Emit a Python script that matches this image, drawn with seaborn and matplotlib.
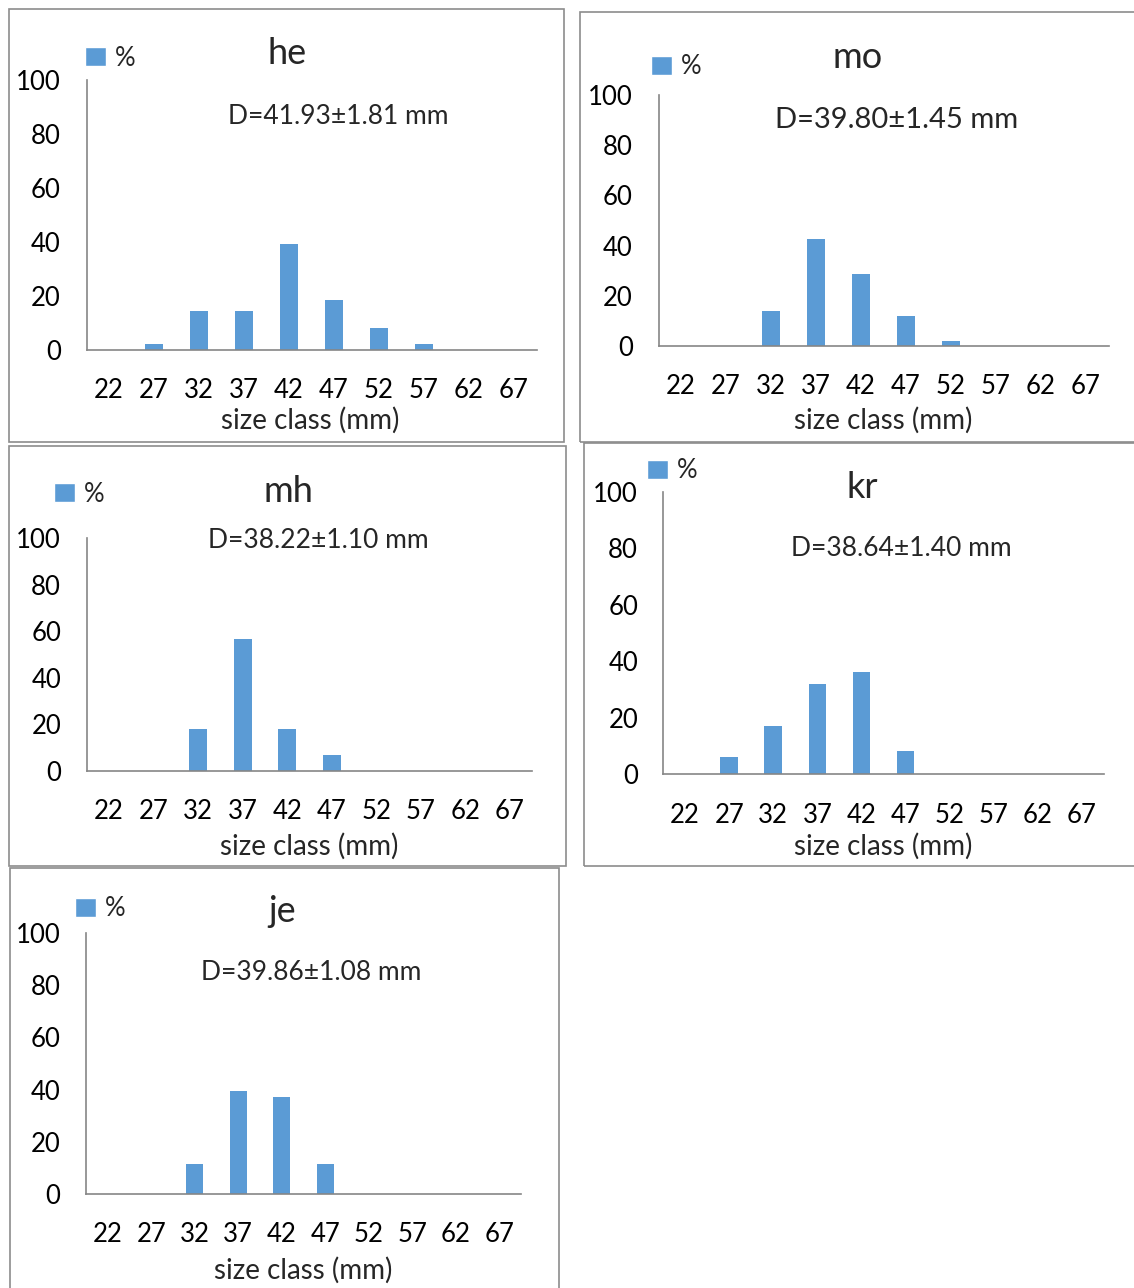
import matplotlib
matplotlib.use("Agg")
import matplotlib.pyplot as plt
import seaborn as sns
import pandas as pd
from matplotlib.patches import Rectangle, Patch

sns.set_style("white")
plt.rcParams["font.family"] = ["Lato", "DejaVu Sans"]

# size classes (mm) and % per class for each site
size_class = ["22", "27", "32", "37", "42", "47", "52", "57", "62", "67"]
he = [0, 2.1, 14.5, 14.5, 39.4, 18.7, 8.3, 2.1, 0, 0]
mo = [0, 0, 14.1, 42.7, 28.5, 11.9, 2.1, 0, 0, 0]
mh = [0, 0, 18.0, 56.7, 18.0, 6.8, 0, 0, 0, 0]
kr = [0, 6.2, 16.9, 31.8, 36.2, 8.3, 0, 0, 0, 0]
je = [0, 0, 11.4, 39.5, 37.2, 11.4, 0, 0, 0, 0]
sites = ["he", "mo", "mh", "kr", "je"]
means = ["D=41.93\u00b11.81 mm", "D=39.80\u00b11.45 mm", "D=38.22\u00b11.10 mm",
         "D=38.64\u00b11.40 mm", "D=39.86\u00b11.08 mm"]
yticks = [0, 20, 40, 60, 80, 100]

W, H = 1134, 1288
BLUE = "#5B9BD5"
GREY = "#868686"
FS = 18.5

# layout in pixels: box, axes (left, y100, right, y0), title, mean text, legend square centre, xlabel
layout = {
    "he": dict(box=(9, 9, 564, 442), ax=(86.5, 80, 536.5, 350), title=(287, 53), d=(338, 116),
               leg=(94, 58), xl=(310, 420), ticks=True, dfs=19),
    "mo": dict(box=(580, 12, 1140, 442), ax=(658.5, 95, 1108.5, 346), title=(858, 58), d=(897, 120),
               leg=(660, 67), xl=(883, 420), ticks=True, dfs=21),
    "mh": dict(box=(9, 446, 566, 866), ax=(86.7, 538, 532.3, 771), title=(288, 491), d=(318, 541),
               leg=(63, 494), xl=(309, 846), ticks=True, dfs=19),
    "kr": dict(box=(584, 443, 1140, 866), ax=(663, 492, 1104, 774), title=(862, 488), d=(901, 548),
               leg=(656, 471), xl=(883, 846), ticks=False, dfs=19),
    "je": dict(box=(10, 868, 559, 1295), ax=(86, 933, 521, 1194), title=(282, 912), d=(311, 972),
               leg=(84, 909), xl=(303, 1270), ticks=True, dfs=19),
}
values = {"he": he, "mo": mo, "mh": mh, "kr": kr, "je": je}


def fx(x):
    return x / W


def fy(y):
    return 1 - y / H


fig = plt.figure(figsize=(W / 100, H / 100), dpi=100)

for site, mean in zip(sites, means):
    L = layout[site]
    bx0, by0, bx1, by1 = L["box"]
    fig.patches.append(Rectangle((fx(bx0), fy(by1)), fx(bx1) - fx(bx0), fy(by0) - fy(by1),
                                 transform=fig.transFigure, fill=False, edgecolor="#8c8c8c", lw=1.2))

    l, t, r, b = L["ax"]
    ax = fig.add_axes([fx(l), fy(b), fx(r) - fx(l), fy(t) - fy(b)])
    df = pd.DataFrame({"size": size_class, "pct": values[site]})
    sns.barplot(data=df, x="size", y="pct", color=BLUE, saturation=1, width=0.4, linewidth=0, ax=ax)
    ax.set_xlim(-0.5, 9.5)
    ax.set_ylim(0, 100)
    ax.set_xlabel("")
    ax.set_ylabel("")
    for s in ["top", "right"]:
        ax.spines[s].set_visible(False)
    for s in ["left", "bottom"]:
        ax.spines[s].set_color(GREY)
        ax.spines[s].set_linewidth(1.2)
        ax.spines[s].set_zorder(3)

    ax.set_yticks(yticks)
    ax.set_xticks(range(10))
    ax.set_xticklabels(size_class)
    if L["ticks"]:
        ax.set_xticks([i - 0.5 for i in range(11)], minor=True)
        ax.tick_params(axis="x", which="major", length=0, pad=20, labelsize=FS)
        ax.tick_params(axis="x", which="minor", direction="out", length=5, width=1.2, color=GREY)
        ax.tick_params(axis="y", direction="out", length=4.5, width=1.2, color=GREY, pad=14, labelsize=FS)
    else:
        ax.tick_params(axis="x", length=0, pad=21, labelsize=FS)
        ax.tick_params(axis="y", length=0, pad=18, labelsize=FS)
    ax.tick_params(which="both", labelcolor="black")

    fig.text(fx(L["title"][0]), fy(L["title"][1]), site, fontsize=26, ha="center", va="center")
    fig.text(fx(L["d"][0]), fy(L["d"][1]), mean, fontsize=L["dfs"], ha="center", va="center")
    fig.text(fx(L["xl"][0]), fy(L["xl"][1]), "size class (mm)", fontsize=20, ha="center", va="center")

    sx, sy = L["leg"]
    ax.legend(handles=[Patch(facecolor=BLUE, label="%")], loc="center left",
              bbox_to_anchor=(fx(sx - 9), fy(sy)), bbox_transform=fig.transFigure,
              frameon=False, fontsize=FS, handlelength=0.8, handleheight=0.8,
              handletextpad=0.35, borderpad=0, borderaxespad=0)

fig.savefig("out.png", dpi=100)
